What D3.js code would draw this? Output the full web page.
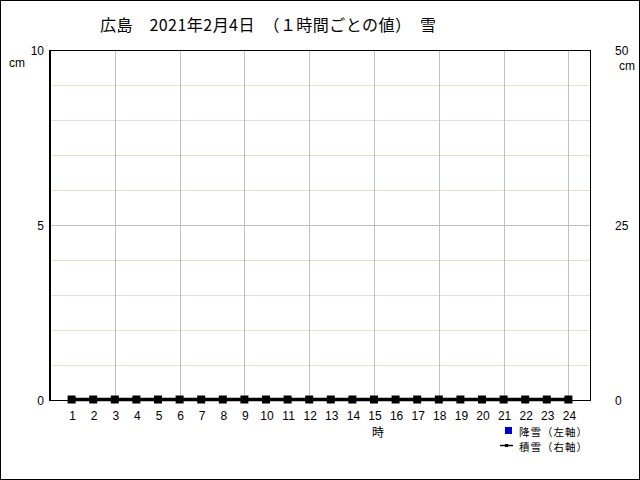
<!DOCTYPE html>
<html><head><meta charset="utf-8">
<script src="https://cdn.jsdelivr.net/npm/d3@7"></script>
<style>body{margin:0;background:#fff}svg{display:block}text{font-family:"Noto Sans CJK JP","DejaVu Sans",sans-serif;fill:#000}text.lat{font-family:"Liberation Sans","DejaVu Sans",sans-serif}</style>
</head><body>
<script>
const title = "広島　2021年2月4日　（１時間ごとの値）　雪";
const hours = d3.range(1, 25);
const snowfall = [0,0,0,0,0,0,0,0,0,0,0,0,0,0,0,0,0,0,0,0,0,0,0,0];
const snowDepth = [0,0,0,0,0,0,0,0,0,0,0,0,0,0,0,0,0,0,0,0,0,0,0,0];
const leftTicks = [0, 5, 10];
const rightTicks = [0, 25, 50];
const legendLabels = ["降雪（左軸）", "積雪（右軸）"];

const W = 640, H = 480;
const svg = d3.select("body").append("svg").attr("width", W).attr("height", H);
svg.append("rect").attr("x",0.5).attr("y",0.5).attr("width",W-1).attr("height",H-1).attr("fill","#fff").attr("stroke","#000");

const L = 50, R = 590, T = 50, B = 400;
const x = d3.scaleLinear().domain([0, 25]).range([L, R]);
const yL = d3.scaleLinear().domain([0, 10]).range([B, T]);
const yR = d3.scaleLinear().domain([0, 50]).range([B, T]);

// minor horizontal grid (beige)
const g = svg.append("g").attr("shape-rendering","crispEdges");
g.selectAll("line.minor").data(d3.range(1, 10).filter(v => v !== 5)).join("line")
  .attr("x1", L).attr("x2", R).attr("y1", d => Math.round(yL(d))+0.5).attr("y2", d => Math.round(yL(d))+0.5)
  .attr("stroke", "#e6dec4").attr("stroke-width", 1);
g.append("line").attr("x1", L).attr("x2", R).attr("y1", Math.round(yL(5))+0.5).attr("y2", Math.round(yL(5))+0.5)
  .attr("stroke", "#c0c0c0");
g.selectAll("line.v").data(hours.filter(h => h % 3 === 0)).join("line")
  .attr("x1", d => Math.round(x(d))+0.5).attr("x2", d => Math.round(x(d))+0.5).attr("y1", T).attr("y2", B)
  .attr("stroke", "#c0c0c0");

// frame
svg.append("path").attr("shape-rendering","crispEdges").attr("d", `M${L+0.5},${B+0.5}V${T+0.5}H${R+0.5}V${B+0.5}H${L}`)
  .attr("fill","none").attr("stroke","#000").attr("stroke-width",1);
svg.append("line").attr("x1",L).attr("x2",L).attr("y1",T).attr("y2",B+1).attr("stroke","#000").attr("stroke-width",2);

// snowfall bars (left axis)
svg.selectAll("rect.bar").data(hours).join("rect")
  .attr("x", (d,i) => x(d) - 6).attr("width", 12)
  .attr("y", (d,i) => yL(snowfall[i])).attr("height", (d,i) => B - yL(snowfall[i]))
  .attr("fill", "#0000cc");

// snow depth line (right axis)
const line = d3.line().x((d,i) => x(hours[i])).y(d => yR(d) - 0.5);
svg.append("path").datum(snowDepth).attr("d", line).attr("fill","none").attr("stroke","#000").attr("stroke-width",3.5);
svg.selectAll("rect.mk").data(snowDepth).join("rect")
  .attr("x", (d,i) => x(hours[i]) - 4).attr("y", d => yR(d) - 4.5).attr("width", 8).attr("height", 8).attr("fill","#000");

// axes labels
const fs = 12;
svg.selectAll("text.yl").data(leftTicks).join("text").attr("class","lat")
  .attr("x", 44).attr("y", d => yL(d) + 5).attr("text-anchor","end").attr("font-size",fs).text(d => d);
svg.selectAll("text.yr").data(rightTicks).join("text").attr("class","lat")
  .attr("x", 615).attr("y", d => yR(d) + 5).attr("text-anchor","start").attr("font-size",fs).text(d => d);
svg.selectAll("text.xl").data(hours).join("text").attr("class","lat")
  .attr("x", d => x(d)+1).attr("y", 420).attr("text-anchor","middle").attr("font-size",fs).text(d => d);
svg.append("text").attr("class","lat").attr("x", 9).attr("y", 67).attr("font-size",fs).text("cm");
svg.append("text").attr("class","lat").attr("x", 619).attr("y", 70).attr("font-size",fs).text("cm");
svg.append("text").attr("x", x(15)+4).attr("y", 437).attr("text-anchor","middle").attr("font-size",fs).text("時");

// title
svg.append("text").attr("x", 100).attr("y", 31).attr("font-size", 16)
  .attr("textLength", 336).attr("lengthAdjust","spacing").text(title);

// legend
svg.append("rect").attr("x", 505).attr("y", 427).attr("width", 7).attr("height", 7).attr("fill", "#0000cc");
svg.append("text").attr("x", 519).attr("y", 435.5).attr("font-size", 10.5).attr("textLength", 68).text(legendLabels[0]);
svg.append("line").attr("x1", 500).attr("x2", 513).attr("y1", 445.5).attr("y2", 445.5).attr("stroke","#000").attr("stroke-width",1.5);
svg.append("rect").attr("x", 505).attr("y", 444).attr("width", 3).attr("height", 3).attr("fill", "#000");
svg.append("text").attr("x", 519).attr("y", 451).attr("font-size", 10.5).attr("textLength", 68).text(legendLabels[1]);
</script>
</body></html>
